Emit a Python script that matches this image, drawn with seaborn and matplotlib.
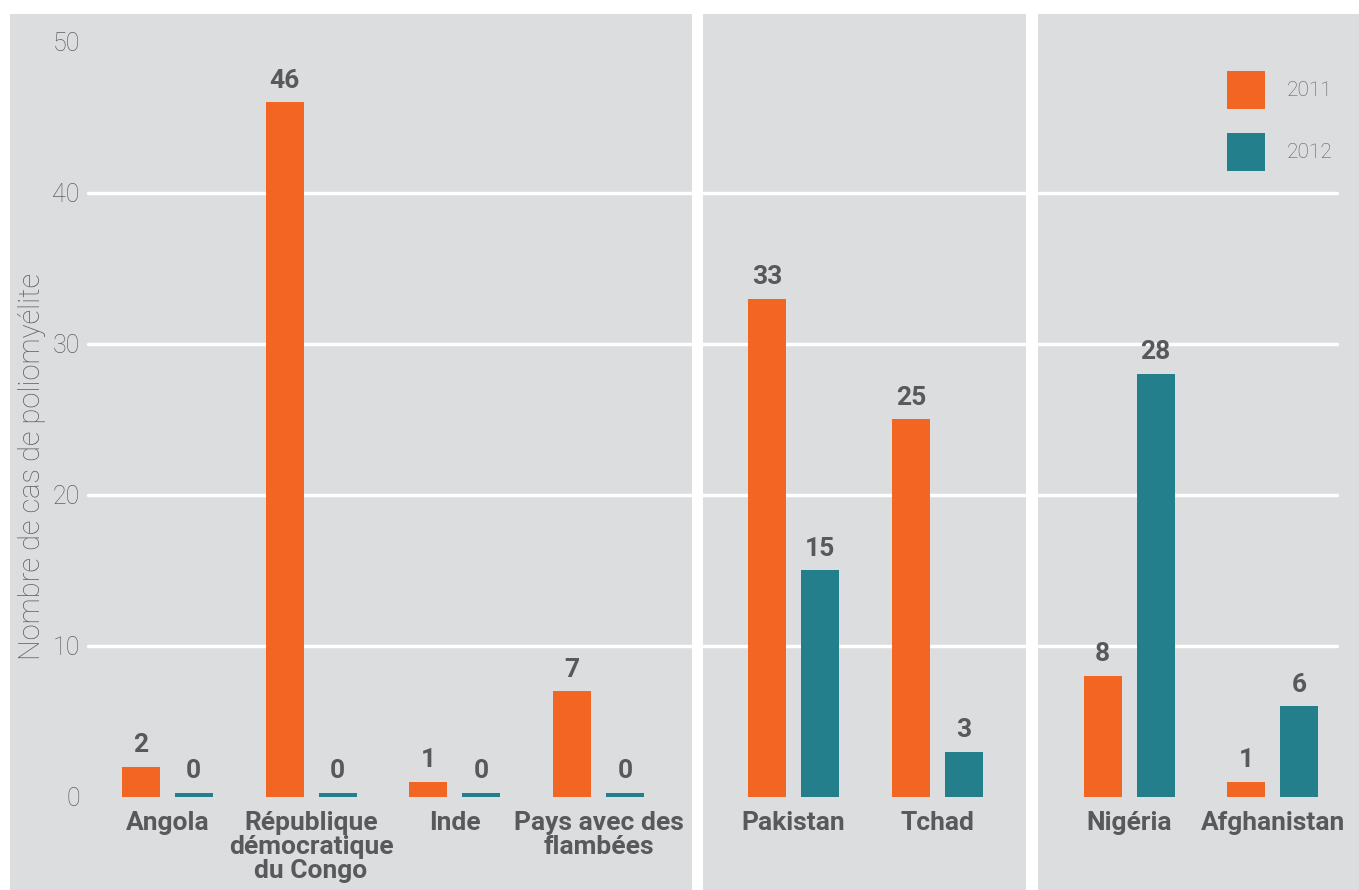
import numpy as np
import pandas as pd
import matplotlib
matplotlib.use("Agg")
import matplotlib.pyplot as plt
import seaborn as sns
from matplotlib.patches import Patch

# ---------------- data ----------------
years = ["2011", "2012"]
panel1_countries = ["Angola", "République\ndémocratique\ndu Congo", "Inde", "Pays avec des\nflambées"]
panel1_2011 = [2, 46, 1, 7]
panel1_2012 = [0, 0, 0, 0]
panel2_countries = ["Pakistan", "Tchad"]
panel2_2011 = [33, 25]
panel2_2012 = [15, 3]
panel3_countries = ["Nigéria", "Afghanistan"]
panel3_2011 = [8, 1]
panel3_2012 = [28, 6]
y_ticks = [0, 10, 20, 30, 40, 50]
y_label = "Nombre de cas de poliomyélite"

# ---------------- style ----------------
ORANGE = "#F26522"
TEAL = "#247F8C"
BG = "#DCDDDF"
DARK = "#58595B"
LIGHT = "#5E5F61"
palette = {"2011": ORANGE, "2012": TEAL}

sns.set_theme(style="white")
plt.rcParams["font.family"] = ["Roboto", "DejaVu Sans"]
BOLD = dict(family=["Roboto", "DejaVu Sans"], weight="bold")
THIN = dict(family=["Roboto", "DejaVu Sans"], weight="light")

W, H = 1359, 890
fig = plt.figure(figsize=(W / 100, H / 100), dpi=100)
fig.patch.set_facecolor("white")

top_px = 14
panels = [
    (10, 682, panel1_countries, panel1_2011, panel1_2012, (-1.094, 3.649)),
    (703, 323, panel2_countries, panel2_2011, panel2_2012, (-0.628, 1.615)),
    (1038, 321, panel3_countries, panel3_2011, panel3_2012, (-0.635, 1.60)),
]
ylim = (-6.16, 51.85)
MIN_SHOWN = 0.25  # zero values drawn as a thin stub

axes = []
for i, (left, width, cats, v11, v12, xl) in enumerate(panels):
    ax = fig.add_axes([left / W, 0, width / W, (H - top_px) / H])
    ax.set_facecolor(BG)
    df = pd.DataFrame({
        "country": cats * 2,
        "year": [years[0]] * len(cats) + [years[1]] * len(cats),
        "value": list(v11) + list(v12),
    })
    df["shown"] = np.maximum(df["value"], MIN_SHOWN)
    sns.barplot(data=df, x="country", y="shown", hue="year", order=cats,
                hue_order=years, palette=palette, saturation=1,
                width=0.736, gap=0.283, ax=ax, legend=False,
                linewidth=0, edgecolor="none")
    # value labels
    for cont, yr in zip(ax.containers, years):
        vals = df[df["year"] == yr]["value"].tolist()
        ax.bar_label(cont, labels=[str(v) for v in vals], padding=7,
                     fontsize=19, color=DARK, **BOLD)
    ax.set_xlim(*xl)
    ax.set_ylim(*ylim)
    # gridlines
    xmin = 78 / width if i == 0 else 0
    xmax = (1337 - left) / width if i == 2 else 1
    for t in y_ticks[1:-1]:
        ax.axhline(t, xmin=xmin, xmax=xmax, color="white", lw=2.5, zorder=0.5)
    for s in ax.spines.values():
        s.set_visible(False)
    ax.spines["bottom"].set_position(("data", 0))
    ax.tick_params(axis="x", length=0, pad=10)
    ax.set_xticks(range(len(cats)))
    ax.set_xticklabels(cats, fontsize=19, color=DARK, linespacing=1.0, **BOLD)
    ax.set_xlabel("")
    ax.set_ylabel("")
    if i == 0:
        ax.spines["left"].set_position(("axes", 78 / width))
        ax.set_yticks(y_ticks)
        ax.set_yticklabels([str(t) for t in y_ticks], fontsize=18, color=LIGHT, **THIN)
        ax.tick_params(axis="y", length=0, pad=6)
    else:
        ax.set_yticks([])
    axes.append(ax)

fig.text(32 / W, 1 - 466 / H, y_label, rotation=90, ha="center", va="center",
         fontsize=21, color=LIGHT, **THIN)

handles = [Patch(facecolor=palette[y], edgecolor="none", label=y) for y in years]
leg = axes[2].legend(handles=handles, loc="upper left",
                     bbox_to_anchor=((1227 - 1038) / 321, (H - 71) / (H - top_px)),
                     frameon=False, borderaxespad=0, borderpad=0,
                     handlelength=1.83, handleheight=2.43, labelspacing=1.13,
                     handletextpad=1.05, prop=dict(size=15, **THIN))
for t in leg.get_texts():
    t.set_color(LIGHT)

fig.savefig("out.png", dpi=100, facecolor="white")
